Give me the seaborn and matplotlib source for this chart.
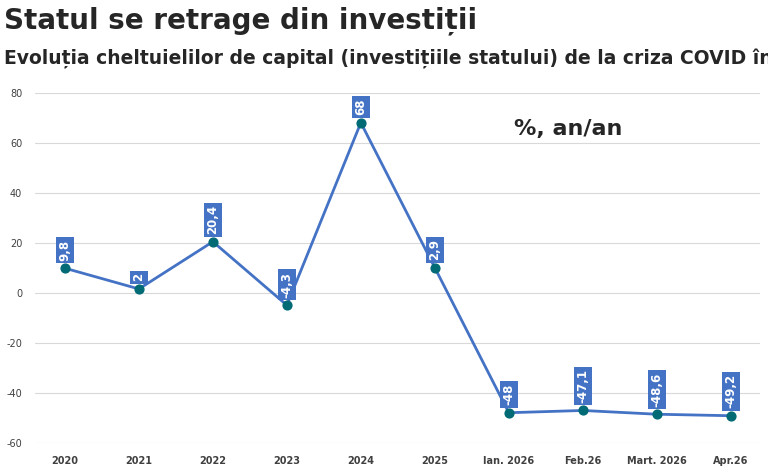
import matplotlib.pyplot as plt
import pandas as pd
import seaborn as sns

categories = ["2020", "2021", "2022", "2023", "2024", "2025", "Ian. 2026", "Feb.26", "Mart. 2026", "Apr.26"]
values = [9.8, 1.5, 20.4, -5.0, 68.0, 10.0, -48.0, -47.1, -48.6, -49.2]
labels = ["9,8", "2", "20,4", "-4,3", "68", "2,9", "-48", "-47,1", "-48,6", "-49,2"]

df = pd.DataFrame({"cat": categories, "val": values, "pos": range(len(categories))})

sns.set_theme(style="whitegrid")
plt.rcParams["font.family"] = ["DejaVu Sans Condensed", "DejaVu Sans"]
plt.rcParams["axes.unicode_minus"] = False

fig = plt.figure(figsize=(7.68, 4.68), dpi=100)
ax = fig.add_axes([0.046, 0.054, 0.944, 0.748])

sns.lineplot(data=df, x="pos", y="val", color="#4472C4", linewidth=2, ax=ax)
ax.scatter(df["pos"], df["val"], color="#006A75", s=40, zorder=3)

for p, v, t in zip(df["pos"], df["val"], labels):
    ax.text(p, v + 3, t, rotation=90, ha="center", va="bottom", color="white",
            fontsize=8.5, fontweight="bold",
            bbox=dict(boxstyle="square,pad=0.2", fc="#4472C4", ec="none"))

ax.set_xlim(-0.4, 9.4)
ax.set_ylim(-60, 80)
ax.set_yticks(range(-60, 81, 20))
ax.set_xticks(df["pos"])
ax.set_xticklabels(categories, fontsize=7, fontweight="bold", color="#404040")
ax.tick_params(axis="y", labelsize=7, colors="#404040")
ax.set_xlabel("")
ax.set_ylabel("")
ax.grid(axis="x", visible=False)
ax.grid(axis="y", color="#d9d9d9", linewidth=0.8)
for s in ax.spines.values():
    s.set_visible(False)

ax.text(0.66, 0.88, "%, an/an", transform=ax.transAxes, fontsize=16, fontweight="bold")

fig.text(0.005, 0.955, "Statul se retrage din investiții", fontsize=20, fontweight="bold", va="center")
fig.text(0.005, 0.875, "Evoluția cheltuielilor de capital (investițiile statului) de la criza COVID încoace",
         fontsize=13.5, fontweight="bold", va="center")

fig.savefig("out.png", dpi=100)
